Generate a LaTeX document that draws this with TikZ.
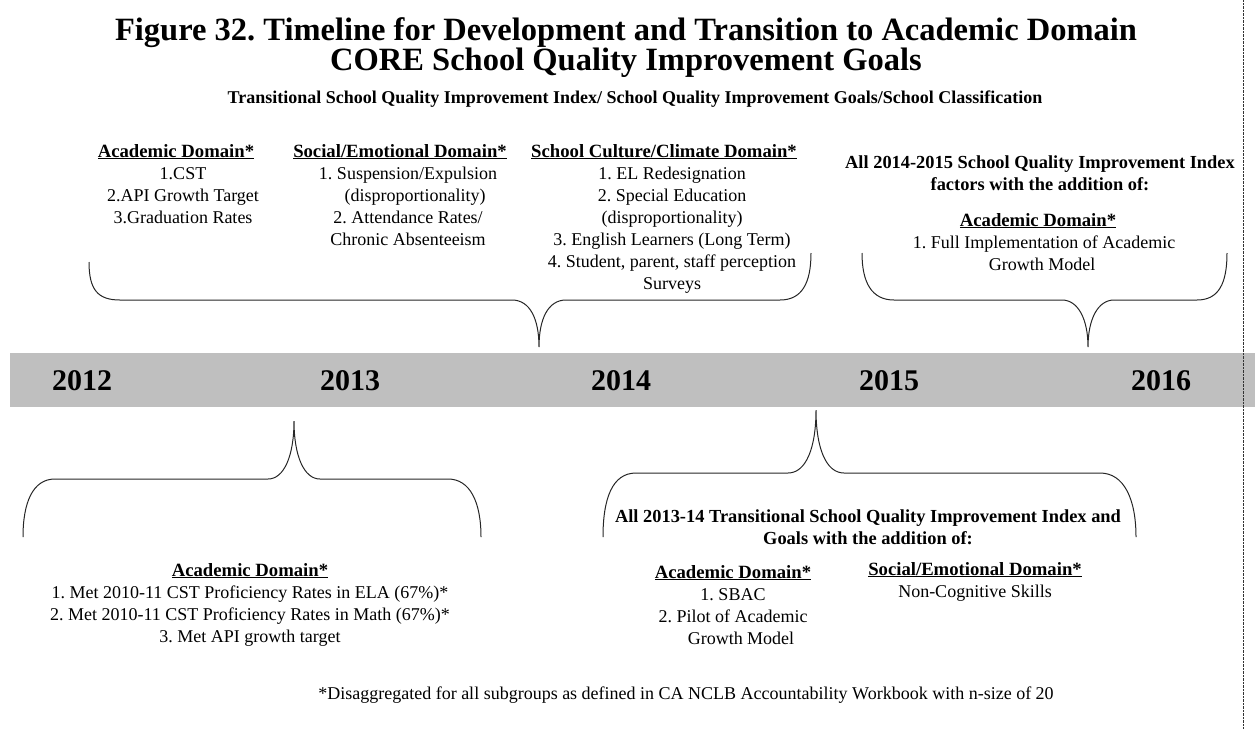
\documentclass[tikz,border=0pt]{standalone}
\usepackage{fontspec}
\setmainfont{Liberation Serif}
\usetikzlibrary{positioning}
\frenchspacing
\newcommand{\domhead}[1]{\underline{\textbf{\fontsize{18.7}{22}\selectfont #1}}}
\newcommand{\sh}[1]{\hspace*{#1pt}}
\begin{document}
\begin{tikzpicture}[x=1pt, y=-1pt,
    txt/.style={align=center, inner sep=0pt, anchor=base, font=\fontsize{18}{22}\selectfont},
    bold/.style={txt, font=\fontsize{18.4}{22}\selectfont\bfseries},
    year/.style={inner sep=0pt, anchor=base, font=\fontsize{30}{30}\selectfont\bfseries},
    brace/.style={draw=black!85, line width=1pt}]
    \useasboundingbox (0,0) rectangle (1255,729);

    % titles (base = last line)
    \node[inner sep=0pt, anchor=base, font=\fontsize{32.5}{30}\selectfont\bfseries, align=center] (title) at (626,70)
        {Figure 32. Timeline for Development and Transition to Academic Domain\\CORE School Quality Improvement Goals};
    \node[inner sep=0pt, anchor=base, font=\fontsize{18}{20}\selectfont\bfseries] (subtitle) at (635,103)
        {Transitional School Quality Improvement Index/ School Quality Improvement Goals/School Classification};

    % timeline band
    \fill[black!25] (10,353) rectangle (1255,407);
    \draw[densely dotted, black!80] (1243,0) -- (1243,729);
    \node[year] (y12) at (82,390) {2012};
    \node[year] (y13) at (350,390) {2013};
    \node[year] (y14) at (621,390) {2014};
    \node[year] (y15) at (889,390) {2015};
    \node[year] (y16) at (1161,390) {2016};

    % 2013-14 goals
    \node[txt] (acad1) at (183,223) {\domhead{Academic Domain*}\sh{14}\\1.CST\sh{8}\\2.API Growth Target\\3.Graduation Rates};
    \node[txt] (soc1) at (408,245) {\domhead{Social/Emotional Domain*}\sh{16}\\1. Suspension/Expulsion\\\sh{14}(disproportionality)\\2. Attendance Rates/\sh{6}\\Chronic Absenteeism};
    \node[txt] (cult1) at (672,289) {\domhead{School Culture/Climate Domain*}\sh{16}\\1. EL Redesignation\\2. Special Education\\(disproportionality)\sh{56}\\3. English Learners (Long Term)\\4. Student, parent, staff perception\\Surveys};

    % 2015-16 goals
    \node[bold] (all15) at (1040,190) {All 2014-2015 School Quality Improvement Index\\factors with the addition of:};
    \node[txt] (acad3) at (1044,270) {\domhead{Academic Domain*}\sh{12}\\1. Full Implementation of Academic\\Growth Model\sh{4}};

    % 2012-13 goals
    \node[txt] (acad0) at (250,642) {\domhead{Academic Domain*}\\1. Met 2010-11 CST Proficiency Rates in ELA (67\%)*\\2. Met 2010-11 CST Proficiency Rates in Math (67\%)*\\3. Met API growth target};

    % 2014-15 goals
    \node[bold] (all14) at (868,544) {All 2013-14 Transitional School Quality Improvement Index and\\Goals with the addition of:};
    \node[txt] (acad2) at (733,644) {\domhead{Academic Domain*}\\1. SBAC\\2. Pilot of Academic\\\sh{16}Growth Model};
    \node[txt] (soc2) at (975,597) {\domhead{Social/Emotional Domain*}\\Non-Cognitive Skills};

    \node[txt] (note) at (686,699) {*Disaggregated for all subgroups as defined in CA NCLB Accountability Workbook with n-size of 20};

    % braces
    \coordinate (b1l) at (89,262);  \coordinate (b1t) at (539,347);  \coordinate (b1r) at (811,253);
    \coordinate (b2l) at (862,253); \coordinate (b2t) at (1088,347); \coordinate (b2r) at (1227,253);
    \coordinate (b3l) at (23,537);  \coordinate (b3t) at (294,421);  \coordinate (b3r) at (481,537);
    \coordinate (b4l) at (603,537); \coordinate (b4t) at (816,410);  \coordinate (b4r) at (1136,537);

    \draw[brace] (b1l) .. controls +(0,28) and +(-22,0) .. (120,300) -- (512,300)
        .. controls +(18,0) and +(0,-28) .. (b1t) .. controls +(0,-28) and +(-18,0) .. (566,300)
        -- (780,300) .. controls +(22,0) and +(0,30) .. (b1r);
    \draw[brace] (b2l) .. controls +(0,30) and +(-22,0) .. (894,300) -- (1062,300)
        .. controls +(16,0) and +(0,-28) .. (b2t) .. controls +(0,-28) and +(-16,0) .. (1114,300)
        -- (1197,300) .. controls +(22,0) and +(0,30) .. (b2r);
    \draw[brace] (b3l) .. controls +(0,-35) and +(-22,0) .. (55,479) -- (268,479)
        .. controls +(16,0) and +(0,35) .. (b3t) .. controls +(0,35) and +(-16,0) .. (320,479)
        -- (448,479) .. controls +(22,0) and +(0,-35) .. (b3r);
    \draw[brace] (b4l) .. controls +(0,-38) and +(-24,0) .. (636,473) -- (788,473)
        .. controls +(18,0) and +(0,38) .. (b4t) .. controls +(0,38) and +(-18,0) .. (844,473)
        -- (1100,473) .. controls +(24,0) and +(0,-38) .. (b4r);
\end{tikzpicture}
\end{document}
